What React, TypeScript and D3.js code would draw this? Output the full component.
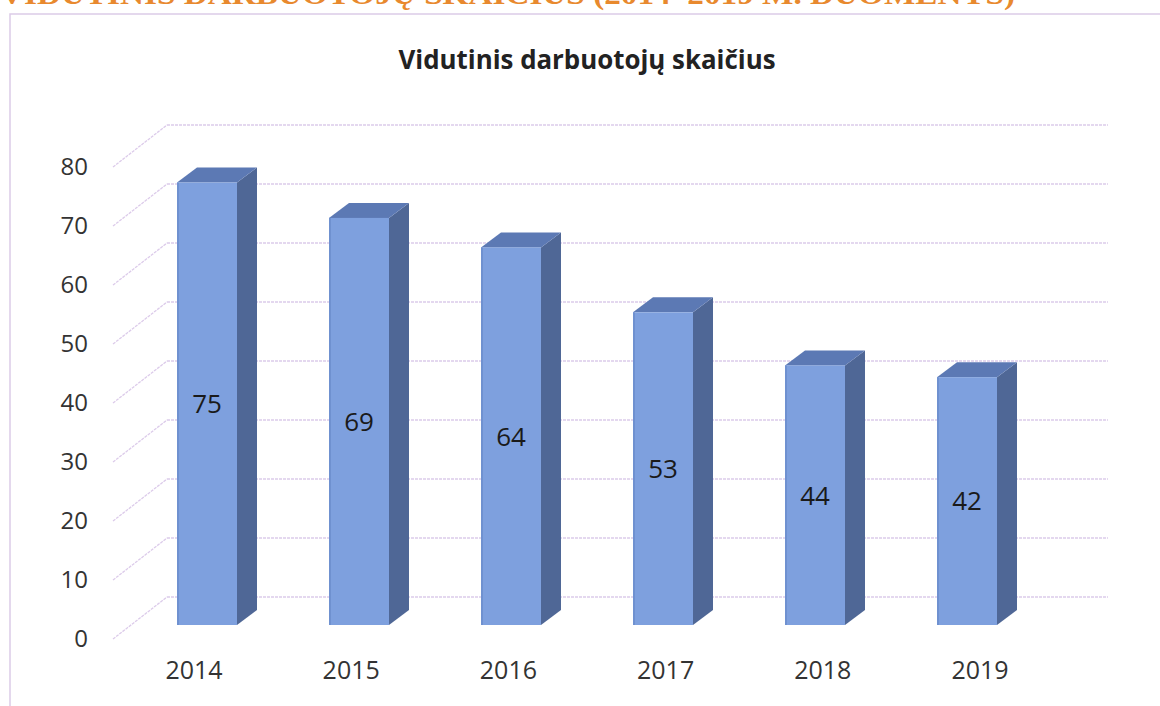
import React from 'react';
import * as d3 from 'd3';

const years = ['2014', '2015', '2016', '2017', '2018', '2019'];
const workers = [75, 69, 64, 53, 44, 42];
const yTicks = [0, 10, 20, 30, 40, 50, 60, 70, 80];

const W = 1160;
const H = 706;

// back wall / perspective offsets
const depthX = 54;
const depthY = 42;
const barDx = 20;
const barDy = 15;
const barW = 60;
const barFrontShift = 28;

const App = () => {
  const y = d3.scaleLinear().domain([0, 80]).range([597, 125]);
  const xBar = d3.scalePoint().domain(years).range([207, 967]);
  const xLabel = d3.scalePoint().domain(years).range([194, 980]);
  const wallLeft = 167;
  const wallRight = 1108;

  return (
    <svg width={W} height={H} style={{ position: 'absolute', left: 0, top: 0, background: '#fff' }}>
      {/* heading of the page above, cut off by the crop */}
      <text x={0} y={4} fontFamily="Liberation Serif" fontWeight="bold" fontSize={30} fill="#e8892e"
        textLength={1015} lengthAdjust="spacingAndGlyphs">
        VIDUTINIS DARBUOTOJŲ SKAIČIUS (2014–2019 M. DUOMENYS)
      </text>

      {/* chart frame */}
      <rect x={10} y={14} width={1170} height={720} fill="none" stroke="#dccbe8" strokeWidth={1.5} />

      <text x={587} y={69} textAnchor="middle" fontFamily="Open Sans" fontWeight="bold" fontSize={27}
        fill="#222" textLength={377} lengthAdjust="spacingAndGlyphs">
        Vidutinis darbuotojų skaičius
      </text>

      {/* gridlines: back wall + slanted side wall */}
      <g stroke="#dccbea" strokeWidth={1.3} strokeDasharray="3 1">
        {yTicks.map((t) => (
          <g key={t}>
            <line x1={wallLeft} x2={wallRight} y1={y(t)} y2={y(t)} />
            <line x1={wallLeft - depthX} y1={y(t) + depthY} x2={wallLeft} y2={y(t)} />
          </g>
        ))}
      </g>

      {/* y axis labels */}
      <g fontFamily="Open Sans" fontSize={24} fill="#333" textAnchor="end">
        {yTicks.map((t) => (
          <text key={t} x={88} y={y(t) + 41} dy="0.36em">{t}</text>
        ))}
      </g>

      {/* 3d bars */}
      {years.map((yr, i) => {
        const x0 = (xBar(yr) as number) - barW / 2;
        const x1 = x0 + barW;
        const top = y(workers[i]) + barFrontShift;
        const bottom = y(0) + barFrontShift;
        const topPath = `M${x0},${top} L${x0 + barDx},${top - barDy} L${x1 + barDx},${top - barDy} L${x1},${top} Z`;
        const sidePath = `M${x1},${top} L${x1 + barDx},${top - barDy} L${x1 + barDx},${bottom - barDy} L${x1},${bottom} Z`;
        return (
          <g key={yr}>
            <path d={sidePath} fill="#4f6796" />
            <path d={topPath} fill="#5c79b4" />
            <rect x={x0} y={top} width={barW} height={bottom - top} fill="#7ea0de" />
            <rect x={x0} y={top} width={2} height={bottom - top} fill="#6f91d0" />
            <text x={x0 + barW / 2} y={(top + bottom) / 2} dy="0.36em" textAnchor="middle"
              fontFamily="Open Sans" fontSize={26} fill="#1a1a1a">
              {workers[i]}
            </text>
          </g>
        );
      })}

      {/* x axis labels */}
      <g fontFamily="Open Sans" fontSize={25} fill="#333" textAnchor="middle">
        {years.map((yr) => (
          <text key={yr} x={xLabel(yr) as number} y={670} dy="0.36em">{yr}</text>
        ))}
      </g>
    </svg>
  );
};

export default App;
